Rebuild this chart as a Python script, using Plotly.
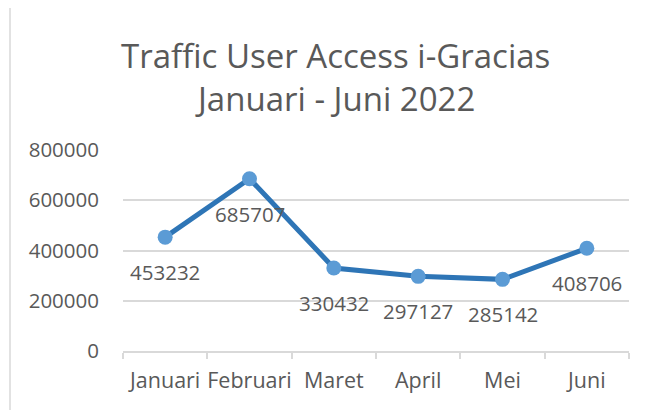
import plotly.graph_objects as go

months = ["Januari", "Februari", "Maret", "April", "Mei", "Juni"]
traffic = [453232, 685707, 330432, 297127, 285142, 408706]
y_ticks = [0, 200000, 400000, 600000, 800000]
title_line1 = "Traffic User Access i-Gracias"
title_line2 = "Januari - Juni 2022"

# page places the figure at an 8px body offset; compensate
OFF = 8
W, H = 646 - OFF, 410 - OFF
L, R, T, B = 123 - OFF, 17, 150 - OFF, 59
pw, ph = W - L - R, H - T - B

def px_x(x):
    return (x - OFF - L) / pw

def px_y(y):
    return (H - B - (y - OFF)) / ph

FONT = "Open Sans"
GREY = "#595959"

fig = go.Figure()
fig.add_trace(go.Scatter(
    x=months, y=traffic, mode="lines+markers",
    line=dict(color="#2E75B6", width=5),
    marker=dict(color="#5B9BD5", size=15),
    hoverinfo="x+y", showlegend=False,
))

annotations = []
for m, v in zip(months, traffic):
    annotations.append(dict(
        x=m, y=v, xref="x", yref="y", text=str(v), showarrow=False,
        yshift=-35, font=dict(family=FONT, size=20.5, color=GREY),
    ))
annotations.append(dict(
    x=px_x(335), y=px_y(55), xref="paper", yref="paper", text=title_line1,
    showarrow=False, xanchor="center", yanchor="middle",
    font=dict(family=FONT, size=33, color=GREY),
))
annotations.append(dict(
    x=px_x(335), y=px_y(98), xref="paper", yref="paper", text=title_line2,
    showarrow=False, xanchor="center", yanchor="middle",
    font=dict(family=FONT, size=33, color=GREY),
))

fig.update_layout(
    width=W, height=H,
    margin=dict(l=L, r=R, t=T, b=B, pad=0, autoexpand=False),
    paper_bgcolor="white", plot_bgcolor="white",
    font=dict(family=FONT, size=20, color=GREY),
    annotations=annotations,
    shapes=[dict(
        type="rect", xref="paper", yref="paper",
        x0=px_x(10), x1=px_x(700), y0=px_y(460), y1=px_y(5),
        line=dict(color="#D9D9D9", width=1.5), fillcolor="rgba(0,0,0,0)",
        layer="below",
    )],
    xaxis=dict(
        type="category", range=[-0.5, 5.5], showline=True, linecolor="#D9D9D9",
        linewidth=1.5, ticks="outside", tickson="boundaries", ticklen=6,
        tickcolor="#D9D9D9", tickwidth=1.5, showgrid=False, zeroline=False,
        tickangle=0, automargin=False,
        tickfont=dict(family=FONT, size=21.5, color=GREY), ticklabelstandoff=9,
    ),
    yaxis=dict(
        range=[0, 800000], tickvals=y_ticks, ticktext=[str(t) for t in y_ticks],
        showgrid=True, gridcolor="#D9D9D9", gridwidth=1.5, zeroline=False,
        showline=False, ticks="", ticklabelstandoff=23, automargin=False,
        tickfont=dict(family=FONT, size=20.5, color=GREY),
    ),
)

fig.write_html("out.html")
